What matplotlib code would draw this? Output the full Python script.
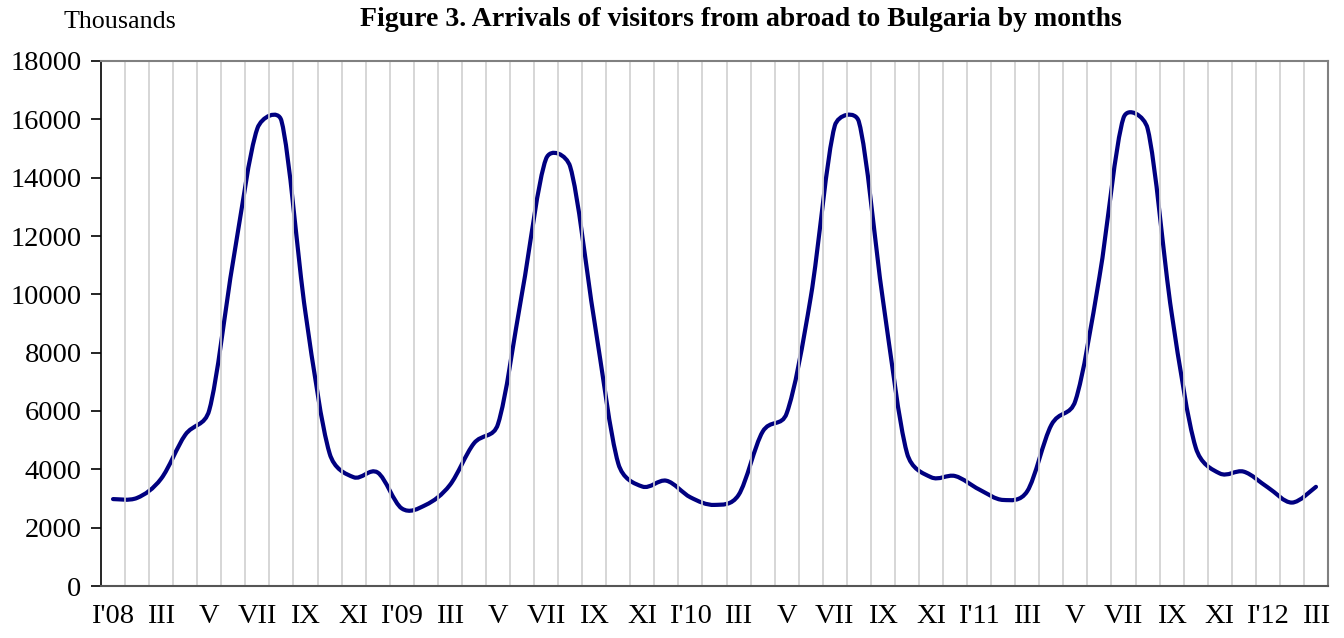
import numpy as np
import matplotlib
matplotlib.use("Agg")
import matplotlib.pyplot as plt
from matplotlib.path import Path
from matplotlib.patches import PathPatch

# ---- data (thousands), monthly I'08 .. III'12 ----
months = ["I'08", "II", "III", "IV", "V", "VI", "VII", "VIII", "IX", "X", "XI", "XII",
          "I'09", "II", "III", "IV", "V", "VI", "VII", "VIII", "IX", "X", "XI", "XII",
          "I'10", "II", "III", "IV", "V", "VI", "VII", "VIII", "IX", "X", "XI", "XII",
          "I'11", "II", "III", "IV", "V", "VI", "VII", "VIII", "IX", "X", "XI", "XII",
          "I'12", "II", "III"]
arrivals = [2980, 3020, 3680, 5180, 6030, 11180, 15690, 15950, 9360, 4550, 3730, 3890,
            2660, 2780, 3460, 4890, 5550, 10040, 14650, 14380, 9120, 4200, 3410, 3610,
            3040, 2780, 3120, 5290, 5920, 9900, 15780, 15920, 9810, 4560, 3730, 3770,
            3310, 2950, 3250, 5520, 6350, 10600, 16050, 15690, 9360, 4750, 3860, 3920,
            3380, 2860, 3400]
yticks = list(range(0, 18001, 2000))

plt.rcParams['font.family'] = ['Liberation Serif', 'DejaVu Serif']

W, H = 1344, 638
fig = plt.figure(figsize=(W / 100, H / 100), dpi=100)
ax = fig.add_axes([101 / W, 1 - 586 / H, (1328 - 101) / W, (586 - 61) / H])

n = len(months)
xs = np.arange(n)
ax.set_xlim(-0.5, n - 0.5)
ax.set_ylim(0, 18000)

# vertical gridlines at category boundaries
ax.set_xticks(np.arange(0.5, n - 1, 1.0), minor=True)
ax.grid(True, which='minor', axis='x', color='#d0d0d0', lw=1.2)
ax.tick_params(axis='x', which='minor', length=0)
ax.set_xticks(xs[::2])
ax.set_xticklabels(months[::2], fontsize=20.5)
ax.tick_params(axis='x', which='major', length=0, pad=13)
ax.set_yticks(yticks)
ax.set_yticklabels([str(v) for v in yticks], fontsize=20.5)
ax.tick_params(axis='y', length=7, width=1.2, direction='out', pad=7, colors='black')

for s in ['top', 'right']:
    ax.spines[s].set_color('#808080')
    ax.spines[s].set_linewidth(1.5)
ax.spines['left'].set_color('black')
ax.spines['left'].set_linewidth(1.2)
ax.spines['bottom'].set_color('#555555')
ax.spines['bottom'].set_linewidth(1.5)

# ---- Excel-like smoothed line (Bezier through the data points) ----
pts = ax.transData.transform(np.column_stack([xs, arrivals]))
verts = [pts[0]]
codes = [Path.MOVETO]
for i in range(n - 1):
    p0 = pts[i - 1] if i > 0 else pts[i]
    p1 = pts[i]
    p2 = pts[i + 1]
    p3 = pts[i + 2] if i + 2 < n else pts[i + 1]
    d12 = np.hypot(*(p2 - p1))
    d02 = np.hypot(*(p2 - p0))
    d13 = np.hypot(*(p3 - p1))
    f1 = min(1 / 6, (d12 / 2) / d02) if d02 > 0 else 0
    f2 = min(1 / 6, (d12 / 2) / d13) if d13 > 0 else 0
    b1 = p1 + (p2 - p0) * f1
    b2 = p2 - (p3 - p1) * f2
    verts += [b1, b2, p2]
    codes += [Path.CURVE4] * 3
verts = ax.transData.inverted().transform(np.array(verts))
ax.add_patch(PathPatch(Path(verts, codes), facecolor='none', edgecolor='#000080',
                       lw=3, capstyle='round', joinstyle='round'))

fig.text(63 / W, 1 - 22 / H, "Thousands", fontsize=18.7, ha='left', va='center')
fig.text(741 / W, 1 - 20 / H, "Figure 3. Arrivals of visitors from abroad to Bulgaria by months",
         fontsize=20, fontweight='bold', ha='center', va='center')

fig.savefig("out.png", dpi=100)
